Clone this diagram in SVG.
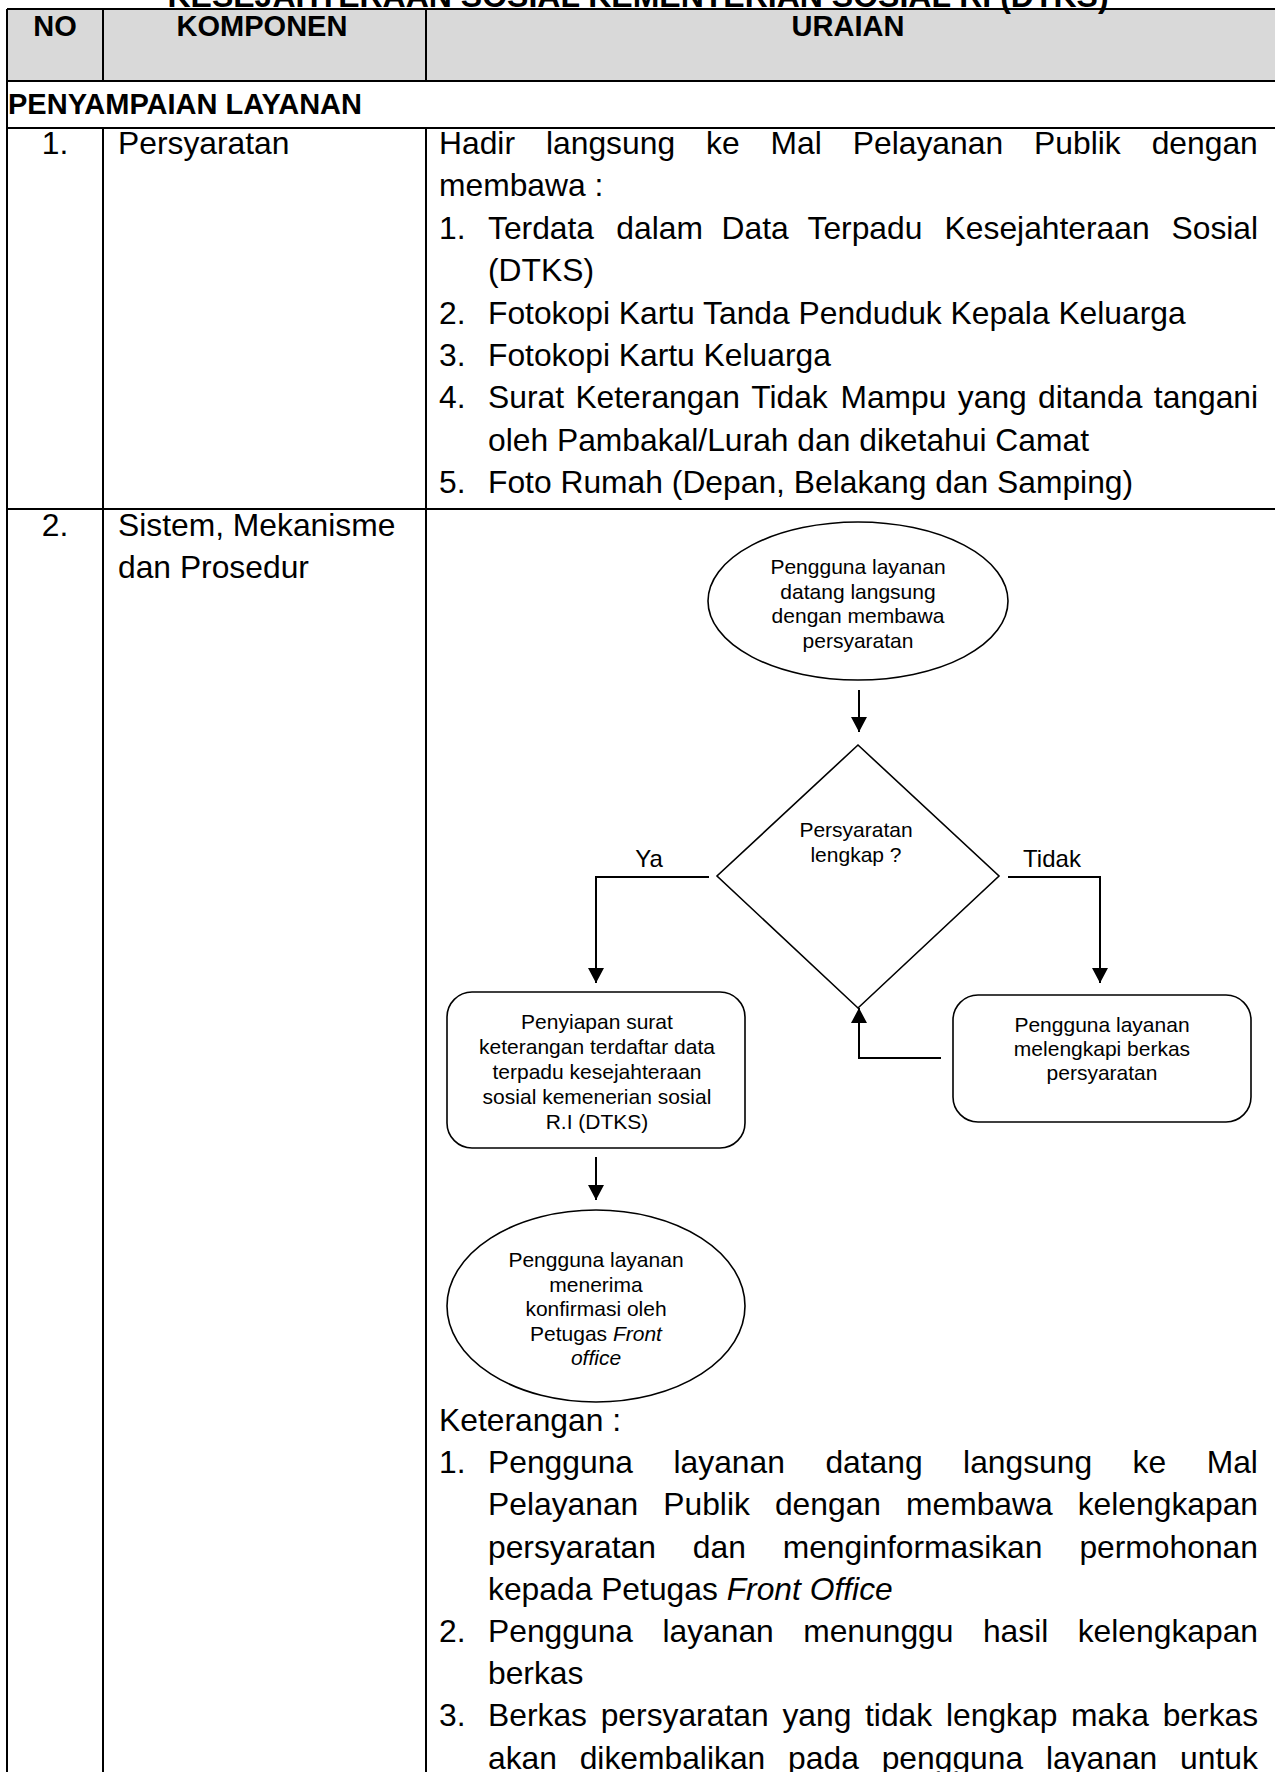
<svg xmlns="http://www.w3.org/2000/svg" width="1275" height="1772" viewBox="0 0 1275 1772">
<defs>
<style>
.t{font-family:"Liberation Sans",Arial,sans-serif;font-size:31.8px;fill:#000}
.b{font-family:"Liberation Sans",Arial,sans-serif;font-weight:bold;font-size:29px;fill:#000}
.s{font-family:"Liberation Sans",Arial,sans-serif;font-size:21px;fill:#000;text-anchor:middle}
.c{text-anchor:middle}
.i{font-style:italic}
.grid{stroke:#000;stroke-width:2;fill:none}
.shape{fill:#fff;stroke:#000;stroke-width:1.6}
.conn{stroke:#000;stroke-width:2;fill:none}
</style>
<marker id="arr" viewBox="0 0 15 16" markerWidth="15" markerHeight="16" refX="15" refY="8" orient="auto" markerUnits="userSpaceOnUse">
<path d="M0,0 L15,8 L0,16 z" fill="#000"/>
</marker>
</defs>
<rect width="1275" height="1772" fill="#fff"/>

<g id="table">
<rect x="7" y="9" width="1270" height="72" fill="#d9d9d9"/>
<path class="grid" d="M7,9 H1277 M7,81 H1277 M7,128 H1277 M7,509 H1277 M7,9 V1772 M103,9 V81 M103,128 V1772 M426,9 V81 M426,128 V1772"/>
</g>

<g id="title">
<text class="b c" x="638" y="6.5" style="font-size:32px">KESEJAHTERAAN SOSIAL KEMENTERIAN SOSIAL RI (DTKS)</text>
<text class="b c" x="55" y="36">NO</text>
<text class="b c" x="262" y="36">KOMPONEN</text>
<text class="b c" x="848" y="36">URAIAN</text>
<text class="b" x="8" y="114">PENYAMPAIAN LAYANAN</text>
</g>

<g id="row1">
<text class="t c" x="55" y="154">1.</text>
<text class="t" x="118" y="154">Persyaratan</text>
<text class="t" y="154"><tspan x="439">Hadir</tspan><tspan x="546">langsung</tspan><tspan x="706">ke</tspan><tspan x="770.6">Mal</tspan><tspan x="852.8">Pelayanan</tspan><tspan x="1034.1">Publik</tspan><tspan x="1151.7">dengan</tspan></text>
<text class="t" x="439" y="196.4">membawa :</text>
<text class="t" x="439" y="238.8">1.</text>
<text class="t" y="238.8"><tspan x="488">Terdata</tspan><tspan x="616.3">dalam</tspan><tspan x="721.6">Data</tspan><tspan x="807.5">Terpadu</tspan><tspan x="944.6">Kesejahteraan</tspan><tspan x="1171.5">Sosial</tspan></text>
<text class="t" x="488" y="281.2">(DTKS)</text>
<text class="t" x="439" y="323.6">2.</text>
<text class="t" x="488" y="323.6">Fotokopi Kartu Tanda Penduduk Kepala Keluarga</text>
<text class="t" x="439" y="366">3.</text>
<text class="t" x="488" y="366">Fotokopi Kartu Keluarga</text>
<text class="t" x="439" y="408.4">4.</text>
<text class="t" y="408.4"><tspan x="488">Surat</tspan><tspan x="575.4">Keterangan</tspan><tspan x="751.2">Tidak</tspan><tspan x="840.4">Mampu</tspan><tspan x="957.8">yang</tspan><tspan x="1038.1">ditanda</tspan><tspan x="1153.8">tangani</tspan></text>
<text class="t" x="488" y="450.8">oleh Pambakal/Lurah dan diketahui Camat</text>
<text class="t" x="439" y="493.2">5.</text>
<text class="t" x="488" y="493.2">Foto Rumah (Depan, Belakang dan Samping)</text>
</g>

<g id="row2">
<text class="t c" x="55" y="536">2.</text>
<text class="t" x="118" y="536">Sistem, Mekanisme</text>
<text class="t" x="118" y="578">dan Prosedur</text>
</g>

<g id="connectors">
<path class="conn" d="M859,690 V732" marker-end="url(#arr)"/>
<path class="conn" d="M709,877 H596 V983" marker-end="url(#arr)"/>
<path class="conn" d="M1008,877 H1100 V983" marker-end="url(#arr)"/>
<path class="conn" d="M941,1058 H859 V1008" marker-end="url(#arr)"/>
<path class="conn" d="M596,1157 V1200" marker-end="url(#arr)"/>
</g>

<g id="node-start">
<ellipse class="shape" cx="858" cy="601" rx="150" ry="79"/>
<text class="s"><tspan x="858" y="574">Pengguna layanan</tspan><tspan x="858" y="598.5">datang langsung</tspan><tspan x="858" y="623">dengan membawa</tspan><tspan x="858" y="647.5">persyaratan</tspan></text>
</g>

<g id="node-decision">
<polygon class="shape" points="858,745 999,876 858,1008 717,876"/>
<text class="s"><tspan x="856" y="837">Persyaratan</tspan><tspan x="856" y="862">lengkap ?</tspan></text>
</g>

<g id="label-ya"><text class="s" x="649" y="866.5" style="font-size:24px">Ya</text></g>
<g id="label-tidak"><text class="s" x="1052" y="866.5" style="font-size:24px">Tidak</text></g>

<g id="node-penyiapan">
<rect class="shape" x="447" y="992" width="298" height="156" rx="25" ry="25"/>
<text class="s"><tspan x="597" y="1029">Penyiapan surat</tspan><tspan x="597" y="1054">keterangan terdaftar data</tspan><tspan x="597" y="1079">terpadu kesejahteraan</tspan><tspan x="597" y="1104">sosial kemenerian sosial</tspan><tspan x="597" y="1129">R.I (DTKS)</tspan></text>
</g>

<g id="node-melengkapi">
<rect class="shape" x="953" y="995" width="298" height="127" rx="25" ry="25"/>
<text class="s"><tspan x="1102" y="1032">Pengguna layanan</tspan><tspan x="1102" y="1056">melengkapi berkas</tspan><tspan x="1102" y="1080">persyaratan</tspan></text>
</g>

<g id="node-end">
<ellipse class="shape" cx="596" cy="1306" rx="149" ry="96"/>
<text class="s"><tspan x="596" y="1267">Pengguna layanan</tspan><tspan x="596" y="1291.5">menerima</tspan><tspan x="596" y="1316">konfirmasi oleh</tspan><tspan x="596" y="1340.5">Petugas <tspan class="i">Front</tspan></tspan><tspan x="596" y="1365" class="i">office</tspan></text>
</g>

<g id="keterangan">
<text class="t" x="439" y="1431">Keterangan :</text>
<text class="t" x="439" y="1473.2">1.</text>
<text class="t" y="1473.2"><tspan x="488">Pengguna</tspan><tspan x="673.5">layanan</tspan><tspan x="825.4">datang</tspan><tspan x="963.1">langsung</tspan><tspan x="1132.6">ke</tspan><tspan x="1206.7">Mal</tspan></text>
<text class="t" y="1515.4"><tspan x="488">Pelayanan</tspan><tspan x="663.3">Publik</tspan><tspan x="774.9">dengan</tspan><tspan x="906">membawa</tspan><tspan x="1077.7">kelengkapan</tspan></text>
<text class="t" y="1557.6"><tspan x="488">persyaratan</tspan><tspan x="692.8">dan</tspan><tspan x="782.7">menginformasikan</tspan><tspan x="1079.4">permohonan</tspan></text>
<text class="t" x="488" y="1599.8">kepada Petugas <tspan class="i">Front Office</tspan></text>
<text class="t" x="439" y="1642">2.</text>
<text class="t" y="1642"><tspan x="488">Pengguna</tspan><tspan x="662.4">layanan</tspan><tspan x="803.2">menunggu</tspan><tspan x="982.9">hasil</tspan><tspan x="1077.7">kelengkapan</tspan></text>
<text class="t" x="488" y="1684.2">berkas</text>
<text class="t" x="439" y="1726.4">3.</text>
<text class="t" y="1726.4"><tspan x="488">Berkas</tspan><tspan x="600.7">persyaratan</tspan><tspan x="782.4">yang</tspan><tspan x="865">tidak</tspan><tspan x="946">lengkap</tspan><tspan x="1071.1">maka</tspan><tspan x="1162.7">berkas</tspan></text>
<text class="t" y="1768.6"><tspan x="488">akan</tspan><tspan x="579.7">dikembalikan</tspan><tspan x="788.1">pada</tspan><tspan x="881.7">pengguna</tspan><tspan x="1045.9">layanan</tspan><tspan x="1180.1">untuk</tspan></text>
</g>
</svg>
